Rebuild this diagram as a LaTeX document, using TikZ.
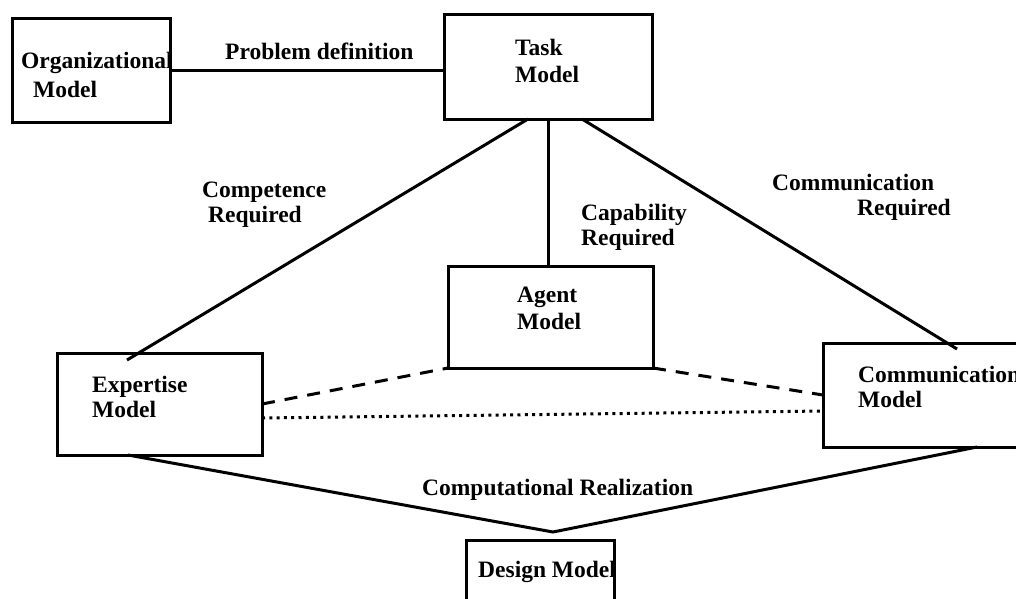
\documentclass[tikz,border=0pt]{standalone}
\usepackage{fontspec}
\setmainfont{Liberation Serif}
\usetikzlibrary{calc}
% two left-aligned lines whose baseline is that of the first line
\newcommand\twoline[3][0pt]{\begin{tabular}[t]{@{}l@{}}#2\\[#1]#3\end{tabular}}
\begin{document}
\begin{tikzpicture}[x=1pt,y=-1pt,
  box/.style={draw, line width=3pt, inner sep=0pt, outer sep=0pt, anchor=north west},
  lbl/.style={font=\fontsize{23.5}{25}\selectfont\bfseries, inner sep=0pt, anchor=base west},
  link/.style={line width=3pt},
  dashlink/.style={link, dash pattern=on 13pt off 10pt},
  dotlink/.style={line width=3pt, dash pattern=on 3pt off 4.3pt}]
\useasboundingbox (0,0) rectangle (1016,598);
\fill[white] (0,0) rectangle (1016,598);
\clip (0,0) rectangle (1016,598);

% model boxes
\node[box, minimum width=158pt, minimum height=104pt] (org) at (12,18) {};
\node[box, minimum width=208pt, minimum height=105pt] (task) at (444,14) {};
\node[box, minimum width=205pt, minimum height=102pt] (agent) at (448,266) {};
\node[box, minimum width=205pt, minimum height=102pt] (expertise) at (57,353) {};
\node[box, minimum width=207pt, minimum height=104pt] (comm) at (823,343) {};
\node[box, minimum width=148pt, minimum height=100pt] (design) at (466,540) {};

% box titles
\node[lbl] (orgtext) at (21,68) {\twoline[4pt]{Organizational}{\hspace*{12pt}Model}};
\node[lbl] (tasktext) at (515,55) {\twoline[2pt]{Task}{Model}};
\node[lbl] (agenttext) at (517,302) {\twoline[2pt]{Agent}{Model}};
\node[lbl] (experttext) at (92,392) {\twoline{Expertise}{Model}};
\node[lbl] (commtext) at (858,382) {\twoline{Communication}{Model}};
\node[lbl] (designtext) at (478,577) {Design Model};

% relation labels
\node[lbl] (probdef) at (225,59) {Problem definition};
\node[lbl] (competence) at (202,197) {\twoline{Competence}{\hspace*{6pt}Required}};
\node[lbl] (capability) at (581,220) {\twoline{Capability}{Required}};
\node[lbl] (commreq) at (772,190) {\twoline{Communication}{\hspace*{85pt}Required}};
\node[lbl] (comprel) at (422,495) {Computational Realization};

% relations
\draw[link] (org.east) -- (org.east -| task.west);
\draw[link] ($(task.south west)+(84,0)$) -- ($(expertise.north west)+(70,7)$);
\draw[link] (task.south) -- (task.south |- agent.north);
\draw[link] ($(task.south west)+(138,0)$) -- ($(comm.north west)+(134,6)$);
\draw[dashlink] (expertise.east) -- (agent.south west);
\draw[dashlink] (agent.south east) -- (comm.west);
\draw[dotlink] ($(expertise.east)+(0,14)$) -- ($(comm.west)+(0,16)$);
\coordinate (apex) at (553,532);
\draw[link] ($(expertise.south west)+(71,0)$) -- (apex) -- ($(comm.south west)+(154,0)$);
\end{tikzpicture}
\end{document}
